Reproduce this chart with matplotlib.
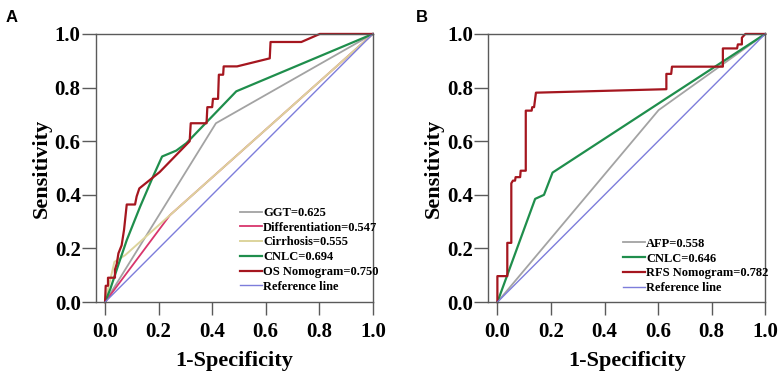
import matplotlib
matplotlib.use('Agg')
import matplotlib.pyplot as plt

plt.rcParams['font.family'] = ['Liberation Serif', 'DejaVu Serif']

# Panel A - OS
ggt_x = [0.0, 0.414, 1.0]
ggt_y = [0.0, 0.667, 1.0]
diff_x = [0.0, 0.242, 1.0]
diff_y = [0.0, 0.324, 1.0]
cirr_x = [0.0, 0.035, 0.075, 1.0]
cirr_y = [0.0, 0.150, 0.175, 1.0]
cnlc_a_x = [0.0, 0.02, 0.05, 0.081, 0.131, 0.18, 0.213, 0.266, 0.304, 0.49, 1.0]
cnlc_a_y = [0.0, 0.05, 0.14, 0.231, 0.356, 0.47, 0.543, 0.565, 0.593, 0.786, 1.0]
os_x = [0.0, 0.0025, 0.011, 0.011, 0.037, 0.037, 0.044, 0.05, 0.062, 0.071, 0.081,
        0.112, 0.118, 0.128, 0.204, 0.316, 0.32, 0.379, 0.382, 0.40, 0.403, 0.422,
        0.425, 0.441, 0.443, 0.493, 0.615, 0.618, 0.733, 0.802, 1.0]
os_y = [0.0, 0.061, 0.061, 0.091, 0.091, 0.121, 0.144, 0.182, 0.212, 0.27, 0.364,
        0.364, 0.394, 0.424, 0.485, 0.6, 0.667, 0.667, 0.727, 0.727, 0.758, 0.758,
        0.848, 0.848, 0.879, 0.879, 0.909, 0.97, 0.97, 1.0, 1.0]
labels_a = ['GGT=0.625', 'Differentiation=0.547', 'Cirrhosis=0.555',
            'CNLC=0.694', 'OS Nomogram=0.750', 'Reference line']

# Panel B - RFS
afp_x = [0.0, 0.602, 1.0]
afp_y = [0.0, 0.716, 1.0]
cnlc_b_x = [0.0, 0.141, 0.174, 0.206, 1.0]
cnlc_b_y = [0.0, 0.385, 0.40, 0.483, 1.0]
rfs_x = [0.0, 0.0, 0.037, 0.037, 0.052, 0.052, 0.058, 0.066, 0.068, 0.085, 0.087,
         0.106, 0.106, 0.128, 0.130, 0.137, 0.144, 0.631, 0.631, 0.649, 0.652,
         0.842, 0.842, 0.895, 0.898, 0.913, 0.913, 0.926, 1.0]
rfs_y = [0.0, 0.097, 0.097, 0.221, 0.221, 0.443, 0.453, 0.453, 0.466, 0.466, 0.49,
         0.49, 0.714, 0.714, 0.727, 0.727, 0.781, 0.794, 0.851, 0.851, 0.878,
         0.878, 0.946, 0.946, 0.961, 0.961, 0.986, 1.0, 1.0]
labels_b = ['AFP=0.558', 'CNLC=0.646', 'RFS Nomogram=0.782', 'Reference line']

ref = [0.0, 1.0]

GRAY = '#a3a3a3'
PINK = '#d8356c'
TAN = '#ddd49c'
GREEN = '#1f8e4c'
RED = '#a5161f'
BLUE = '#7d7ddb'
SPINE = '#5a5a5a'


def style(ax):
    ax.set_xlim(-0.034, 1.0)
    ax.set_ylim(0, 1.0)
    ticks = [0.0, 0.2, 0.4, 0.6, 0.8, 1.0]
    ax.set_xticks(ticks)
    ax.set_yticks(ticks)
    ax.set_xticklabels(['%.1f' % t for t in ticks])
    ax.set_yticklabels(['%.1f' % t for t in ticks])
    for s in ax.spines.values():
        s.set_color(SPINE)
        s.set_linewidth(1.0)
    ax.tick_params(axis='x', direction='out', length=9, width=1, color=SPINE,
                   labelsize=15, pad=5)
    ax.tick_params(axis='y', direction='out', length=10, width=1, color=SPINE,
                   labelsize=15, pad=1)
    for lab in ax.get_xticklabels() + ax.get_yticklabels():
        lab.set_fontweight('bold')
    ax.set_xlabel('1-Specificity', fontsize=16, fontweight='bold', labelpad=7)
    ax.set_ylabel('Sensitivity', fontsize=16, fontweight='bold', labelpad=2)
    for ln in ax.get_lines():
        ln.set_clip_on(False)


def add_legend(ax, anchor):
    ax.legend(loc='upper left', bbox_to_anchor=anchor, frameon=False,
              prop={'weight': 'bold', 'size': 9}, handlelength=1.75,
              handletextpad=0.1, labelspacing=0.22, borderpad=0, borderaxespad=0)


fig = plt.figure(figsize=(7.8, 3.73), dpi=100)

ax1 = fig.add_axes([0.123, 0.190, 0.355, 0.719])
ax1.plot(ggt_x, ggt_y, color=GRAY, lw=1.3, label=labels_a[0])
ax1.plot(diff_x, diff_y, color=PINK, lw=1.3, label=labels_a[1])
ax1.plot(cirr_x, cirr_y, color=TAN, lw=1.4, label=labels_a[2])
ax1.plot(cnlc_a_x, cnlc_a_y, color=GREEN, lw=1.6, label=labels_a[3])
ax1.plot(os_x, os_y, color=RED, lw=1.6, label=labels_a[4])
ax1.plot(ref, ref, color=BLUE, lw=1.0, label=labels_a[5])
style(ax1)
add_legend(ax1, (0.52, 0.355))

ax2 = fig.add_axes([0.626, 0.190, 0.355, 0.719])
ax2.plot(afp_x, afp_y, color=GRAY, lw=1.3, label=labels_b[0])
ax2.plot(cnlc_b_x, cnlc_b_y, color=GREEN, lw=1.6, label=labels_b[1])
ax2.plot(rfs_x, rfs_y, color=RED, lw=1.6, label=labels_b[2])
ax2.plot(ref, ref, color=BLUE, lw=1.0, label=labels_b[3])
style(ax2)
add_legend(ax2, (0.487, 0.24))

fig.text(12 / 780, 1 - 18 / 373, 'A', family='Liberation Sans', fontweight='bold',
         fontsize=12, ha='center', va='center')
fig.text(422 / 780, 1 - 17 / 373, 'B', family='Liberation Sans', fontweight='bold',
         fontsize=12, ha='center', va='center')

fig.savefig('out.png', dpi=100)
